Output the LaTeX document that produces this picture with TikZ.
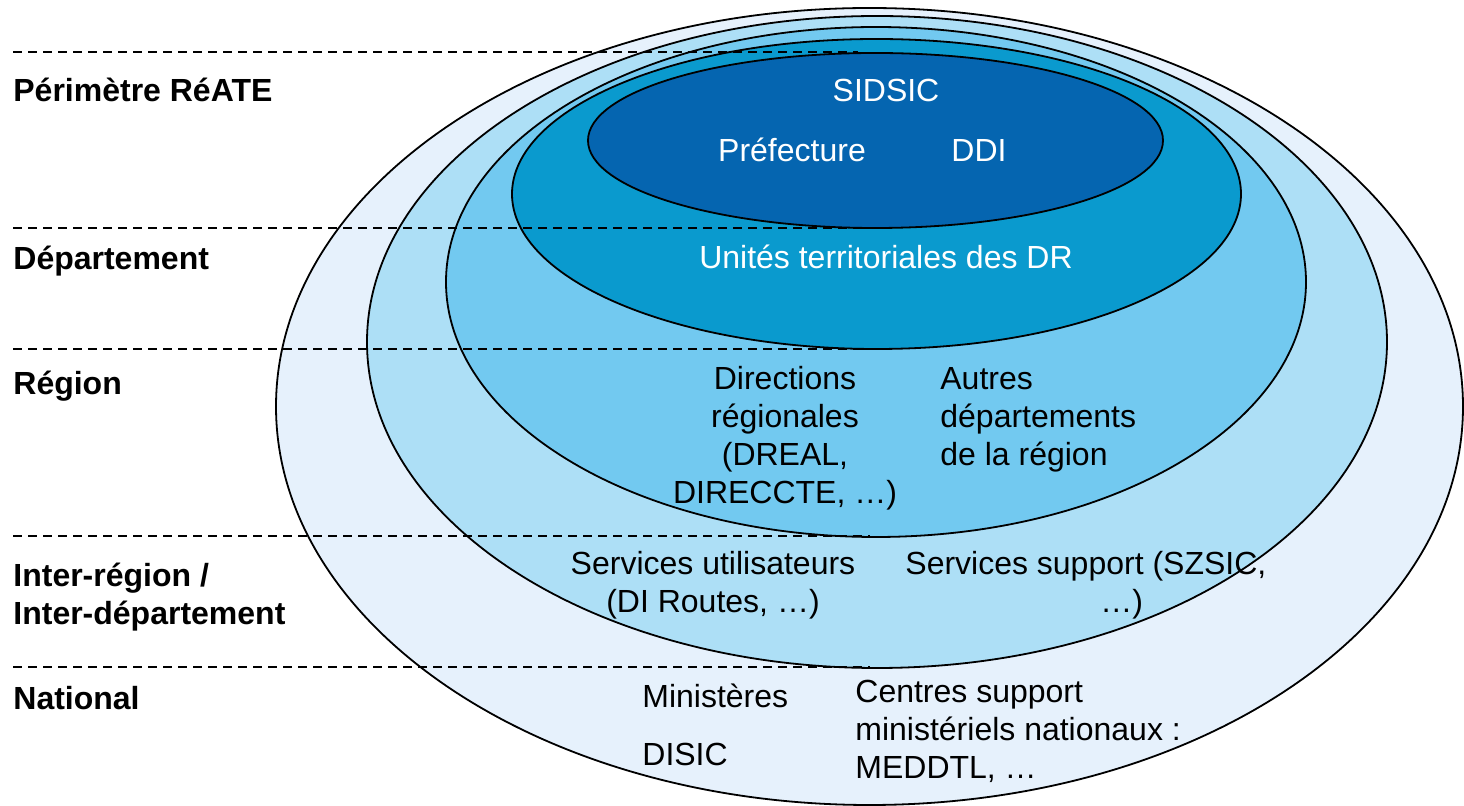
\documentclass[tikz,border=0pt]{standalone}
\usepackage{fontspec}
\setmainfont{Liberation Sans}
\usepackage{tikz}
\usepackage{xcolor}
\usetikzlibrary{positioning}
\definecolor{nationalfill}{HTML}{E6F1FC}
\definecolor{interfill}{HTML}{ADDFF6}
\definecolor{regionfill}{HTML}{72C9F0}
\definecolor{deptfill}{HTML}{0A9ACE}
\definecolor{reatefill}{HTML}{0565B0}

\begin{document}
\begin{tikzpicture}[x=0.5pt,y=0.5pt]
\tikzstyle{every node}+=[inner sep=0pt,font=\fontsize{16}{19}\selectfont]
\tikzstyle{ring}=[draw=black,line width=0.9pt]
\tikzstyle{level}=[black,line width=0.7pt,dash pattern=on 4.5pt off 3pt]
\tikzstyle{heading}=[anchor=base west,align=left,font=\fontsize{16}{19}\selectfont\bfseries]
\tikzstyle{inwhite}=[anchor=base,text=white]
\useasboundingbox (0,0) rectangle (1464,-806);
\fill [white] (0,0) rectangle (1464,-806);
\draw [ring,fill=nationalfill] (869.5,-406.5) ellipse (593.5 and 398.5);
\draw [ring,fill=interfill] (877,-342) ellipse (510 and 326);
\draw [ring,fill=regionfill] (876,-282) ellipse (430 and 255);
\draw [ring,fill=deptfill] (876.5,-194) ellipse (364.5 and 155);
\draw [ring,fill=reatefill] (875.5,-140.5) ellipse (287.5 and 87.5);
\draw [level] (13,-52) -- (858,-52);
\draw [level] (13,-228) -- (870,-228);
\draw [level] (13,-349) -- (870,-349);
\draw [level] (13,-536) -- (870,-536);
\draw [level] (13,-667) -- (870,-667);
\draw (13,-102) node [heading] (perimetre) {Périmètre RéATE};
\draw (13,-270) node [heading] (departement) {Département};
\draw (13,-395) node [heading] (region) {Région};
\draw (13,-625) node [heading] (interregion) {Inter-région /\\Inter-département};
\draw (13,-710) node [heading] (national) {National};
\draw (886,-102) node [inwhite] (sidsic) {SIDSIC};
\draw (792,-162) node [inwhite] (prefecture) {Préfecture};
\draw (979,-162) node [inwhite] (ddi) {DDI};
\draw (886,-269) node [inwhite] (unites) {Unités territoriales des DR};
\draw (785,-504) node [anchor=base,align=center] (directions) {Directions\\régionales\\(DREAL,\\DIRECCTE, …)};
\draw (940,-466) node [anchor=base west,align=left] (autres) {Autres\\départements\\de la région};
\draw (713,-613) node [anchor=base,align=center] (utilisateurs) {Services utilisateurs\\(DI Routes, …)};
\draw (905,-613) node [anchor=base west,align=left] (support) {Services support (SZSIC,\\\hspace*{97.5pt}…)};
\draw (642,-708) node [anchor=base west] (ministeres) {Ministères};
\draw (642,-766) node [anchor=base west] (disic) {DISIC};
\draw (855,-779) node [anchor=base west,align=left] (centres) {Centres support\\ministériels nationaux :\\MEDDTL, …};
\end{tikzpicture}
\end{document}
